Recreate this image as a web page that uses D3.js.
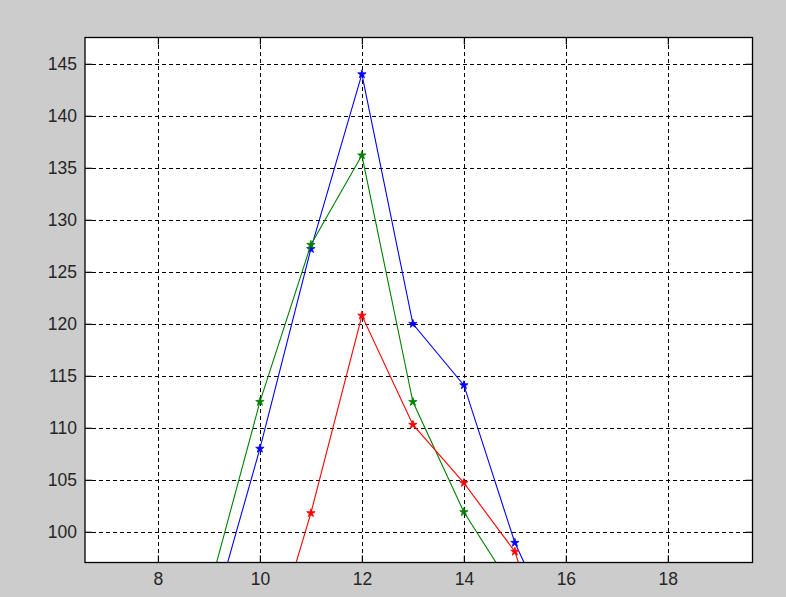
<!DOCTYPE html>
<html>
<head>
<meta charset="utf-8">
<script src="https://cdn.jsdelivr.net/npm/d3@7"></script>
<style>
  html, body { margin: 0; padding: 0; background: #cccccc; }
  svg { display: block; }
</style>
</head>
<body>
<svg id="chart" width="786" height="597"></svg>
<script>
// ---- data ----
const xTicks = [8, 10, 12, 14, 16, 18];
const yTicks = [100, 105, 110, 115, 120, 125, 130, 135, 140, 145];
const blueX  = [9, 10, 11, 12, 13, 14, 15, 16];
const blueY  = [90.7, 108.0, 127.2, 144.0, 120.0, 114.1, 98.95, 88.4];
const greenX = [9, 10, 11, 12, 13, 14, 15];
const greenY = [94.3, 112.5, 127.6, 136.2, 112.5, 101.9, 94.2];
const redX   = [10, 11, 12, 13, 14, 15, 16];
const redY   = [85.4, 101.8, 120.8, 110.3, 104.7, 98.1, 83.0];
const xDomain = [6.57, 19.66];
const yDomain = [97.05, 147.53];

const series = [
  { name: "blue",  xs: blueX,  ys: blueY,  color: "#0000ff" },
  { name: "green", xs: greenX, ys: greenY, color: "#008000" },
  { name: "red",   xs: redX,   ys: redY,   color: "#ff0000" }
];

// ---- layout ----
const L = 85, T = 37.5, R = 752.5, B = 562.5;
const svg = d3.select("#chart");
const x = d3.scaleLinear().domain(xDomain).range([L, R]);
const y = d3.scaleLinear().domain(yDomain).range([B, T]);

svg.append("rect").attr("x", L).attr("y", T).attr("width", R - L).attr("height", B - T)
  .attr("fill", "#ffffff");

// grid
const grid = svg.append("g").attr("stroke", "#000").attr("stroke-width", 1.1)
  .attr("stroke-dasharray", "4,3").attr("shape-rendering", "crispEdges");
xTicks.forEach(t => grid.append("line")
  .attr("x1", Math.round(x(t)) + 0.5).attr("x2", Math.round(x(t)) + 0.5)
  .attr("y1", T).attr("y2", B));
yTicks.forEach(t => grid.append("line")
  .attr("y1", Math.round(y(t)) + 0.5).attr("y2", Math.round(y(t)) + 0.5)
  .attr("x1", L).attr("x2", R));

// clip
svg.append("defs").append("clipPath").attr("id", "clip")
  .append("rect").attr("x", L).attr("y", T).attr("width", R - L).attr("height", B - T);

const plot = svg.append("g").attr("clip-path", "url(#clip)");
const line = d3.line().x(d => x(d[0])).y(d => y(d[1]));
const star = d3.symbol().type(d3.symbolStar).size(22);

series.forEach(s => {
  const pts = s.xs.map((v, i) => [v, s.ys[i]]);
  plot.append("path").datum(pts).attr("d", line)
    .attr("fill", "none").attr("stroke", s.color).attr("stroke-width", 1.1);
  plot.selectAll(null).data(pts).enter().append("path")
    .attr("d", star)
    .attr("transform", d => `translate(${x(d[0])},${y(d[1])})`)
    .attr("fill", s.color).attr("stroke", s.color).attr("stroke-width", 0.8);
});

// axes (MATLAB style, ticks inward, box)
const tickLen = 7;
const fontFam = "Liberation Sans, Arial, sans-serif";
const xAxisB = d3.axisBottom(x).tickValues(xTicks).tickSizeInner(-tickLen).tickSizeOuter(0).tickPadding(10);
const xAxisT = d3.axisTop(x).tickValues(xTicks).tickSizeInner(-tickLen).tickSizeOuter(0).tickFormat("");
const yAxisL = d3.axisLeft(y).tickValues(yTicks).tickSizeInner(-tickLen).tickSizeOuter(0).tickPadding(8);
const yAxisR = d3.axisRight(y).tickValues(yTicks).tickSizeInner(-tickLen).tickSizeOuter(0).tickFormat("");

function style(g) {
  g.select(".domain").remove();
  g.selectAll(".tick line").attr("stroke", "#000").attr("stroke-width", 1.2);
  g.selectAll(".tick text").attr("fill", "#262626").style("font-family", fontFam).style("font-size", "17.5px");
}
svg.append("g").attr("transform", `translate(0,${B})`).call(xAxisB).call(style);
svg.append("g").attr("transform", `translate(0,${T})`).call(xAxisT).call(style);
svg.append("g").attr("transform", `translate(${L},0)`).call(yAxisL).call(style);
svg.append("g").attr("transform", `translate(${R},0)`).call(yAxisR).call(style);

svg.append("rect").attr("x", L).attr("y", T).attr("width", R - L).attr("height", B - T)
  .attr("fill", "none").attr("stroke", "#000").attr("stroke-width", 1.3);
</script>
</body>
</html>
